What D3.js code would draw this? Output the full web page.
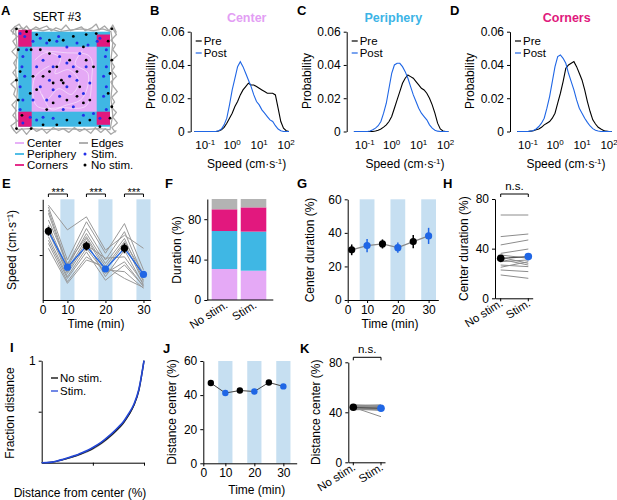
<!DOCTYPE html>
<html>
<head>
<meta charset="utf-8">
<script src="https://cdn.jsdelivr.net/npm/d3@7"></script>
<style>
  body { margin: 0; background: #fff; }
  svg text { font-family: "Liberation Sans", Arial, Helvetica, sans-serif; fill: #000; }
</style>
</head>
<body>
<svg id="fig" width="617" height="500"></svg>
<script>
// ---------------- data ----------------
// A: arena (arena units 0-100)
const centerZone = [14.6, 85.5, 15.8, 84.2];
const cornerZones = [[0, 14.6, -2, 15.8], [85.5, 100, 3, 15.8], [0, 14.6, 84.2, 100], [85.5, 100, 84.2, 98]];
const edgeTracks = [
  [[-6,3],[-4,-5],[1,-8],[5,-2],[9,-6],[13,-1],[19,-5],[23,-3],[31,-6],[36,-1],[41,-4],[47,-2],[52,-7],[57,-1],[63,-3],[69,-5],[73,-1],[80,-4],[85,-8],[88,-2],[94,-6],[99,-1],[103,-7],[107,1]],
  [[102,-5],[107,3],[101,9],[106,14],[103,19],[108,25],[101,31],[105,37],[102,41],[107,47],[101,53],[104,58],[108,63],[102,69],[105,74],[101,79],[107,85],[103,90],[108,96],[102,101],[106,106]],
  [[107,104],[101,108],[95,102],[90,106],[84,101],[79,107],[72,102],[67,105],[61,101],[55,106],[49,102],[44,104],[38,101],[31,107],[26,102],[20,105],[15,101],[9,108],[4,102],[-2,107],[-7,101]],
  [[-4,105],[-8,99],[-1,94],[-6,88],[-2,83],[-7,77],[-1,71],[-5,66],[-3,60],[-8,55],[-1,49],[-6,43],[-2,38],[-5,33],[-1,27],[-7,21],[-2,16],[-6,10],[-1,5],[-8,-1],[-3,-6]],
  [[-3,-2],[4,-4],[10,-1],[17,-3],[27,-1],[35,-3],[45,0],[58,-2],[70,-3],[82,-1],[92,-3],[101,0],[103,12],[101,30],[103,50],[101,70],[103,88],[100,103],[88,102],[70,103],[50,102],[30,103],[12,102],[-2,103],[-3,84],[-1,62],[-3,40],[-1,20],[-3,-2]]
];
const centerTracks = [
  [[18,30],[30,22],[46,28],[40,44],[55,40],[66,52],[58,66],[44,60],[30,72],[22,58]],
  [[70,20],[62,34],[76,44],[70,70],[50,78],[36,82],[26,66]],
  [[24,20],[50,22],[78,26],[80,50],[74,78],[48,80],[20,78],[18,48],[34,36]]
];
const stimDots = [[2,2],[7,5],[16,10],[24,7],[31,12],[42,10],[44,5],[53,16],[64,12],[76,14],[86,10],[89,7],[96,19],[95,26],[96,37],[93,47],[96,58],[93,68],[96,82],[89,91],[82,86],[71,88],[60,79],[49,82],[38,91],[27,90],[20,93],[13,90],[5,96],[2,82],[5,72],[2,58],[7,47],[4,37],[5,26],[9,19],[45,26],[53,33],[60,37],[38,37],[34,51],[53,58],[64,51],[71,65],[45,68],[31,72],[24,58],[20,37],[74,37],[67,23],[78,54],[16,72],[27,30],[56,47],[38,61]];
const noStimDots = [[-2,-3],[9,0],[20,3],[34,9],[49,9],[60,5],[74,3],[85,2],[102,-3],[98,10],[102,30],[100,44],[98,65],[102,79],[100,91],[89,100],[78,93],[67,96],[53,93],[42,98],[27,98],[14,102],[-2,102],[4,88],[0,72],[-2,51],[2,42],[0,19],[14,19],[24,19],[34,23],[42,37],[34,42],[47,51],[38,54],[49,54],[38,75],[31,82],[53,72],[64,68],[71,75],[78,72],[82,37],[71,16],[74,30],[64,42],[16,47],[20,61],[13,65],[56,30],[27,47],[67,58]];

// B-D: speed histograms (log10 speed bins)
const speedBins = [-1.4,-1.3,-1.2,-1.1,-1.0,-0.9,-0.8,-0.7,-0.6,-0.5,-0.4,-0.3,-0.2,-0.1,0.0,0.1,0.2,0.3,0.4,0.5,0.6,0.7,0.8,0.9,1.0,1.1,1.2,1.3,1.4,1.5,1.6,1.7,1.8,1.9,2.0,2.1];
const centerPre = [0,0,0,0,0,0,0,0,0,0.0003,0.001,0.0025,0.005,0.008,0.011,0.015,0.018,0.022,0.025,0.027,0.029,0.028,0.028,0.027,0.026,0.025,0.024,0.023,0.023,0.023,0.022,0.014,0.006,0.002,0.0005,0];
const centerPost = [0,0,0,0,0,0,0,0,0,0.0005,0.0015,0.004,0.008,0.016,0.025,0.032,0.039,0.042,0.039,0.035,0.031,0.027,0.022,0.018,0.016,0.013,0.011,0.009,0.007,0.006,0.0035,0.0015,0.0005,0,0,0];
const periPre = [0,0,0,0,0,0,0,0,0.0003,0.0008,0.0015,0.0026,0.004,0.006,0.009,0.014,0.019,0.024,0.029,0.032,0.034,0.033,0.032,0.030,0.028,0.026,0.025,0.023,0.020,0.016,0.011,0.005,0.0015,0.0003,0,0];
const periPost = [0,0,0,0,0,0,0.0003,0.001,0.002,0.0035,0.006,0.011,0.017,0.026,0.035,0.040,0.041,0.041,0.039,0.036,0.032,0.027,0.022,0.018,0.014,0.011,0.009,0.007,0.004,0.002,0.0008,0.0002,0,0,0,0];
const cornPre = [0,0,0,0,0,0.0002,0.0005,0.001,0.0015,0.0025,0.004,0.005,0.006,0.008,0.011,0.017,0.023,0.030,0.038,0.040,0.041,0.042,0.039,0.035,0.031,0.025,0.018,0.012,0.007,0.0045,0.0025,0.0015,0.0006,0.0002,0,0];
const cornPost = [0,0,0,0,0,0.0002,0.0006,0.0015,0.003,0.005,0.008,0.014,0.021,0.030,0.039,0.045,0.046,0.044,0.041,0.035,0.030,0.025,0.019,0.014,0.011,0.008,0.0055,0.0033,0.0017,0.0008,0.0003,0,0,0,0,0];
const probTicks = [0, 0.02, 0.04, 0.06];
const speedTicks = [-1, 0, 1, 2];

// E, G, J: time course
const epochTimes = [5, 10, 15, 20, 25, 30];
const stimCenters = [10, 20, 30];
const timeTickLabels = ["0", "10", "20", "30"];
const speedMice = [
  [21.1, 15.6, 18.5, 11.1, 14.4, 11.5],
  [20.7, 8.9, 17.4, 10.4, 17.0, 6.7],
  [20.0, 7.8, 15.9, 8.9, 15.2, 5.2],
  [19.3, 7.4, 14.8, 8.1, 13.7, 4.4],
  [17.8, 8.1, 14.1, 7.4, 13.0, 5.9],
  [16.7, 6.7, 13.7, 6.7, 12.6, 4.1],
  [15.9, 6.3, 13.0, 5.2, 11.1, 3.3],
  [15.2, 5.9, 12.2, 9.3, 9.6, 3.7],
  [14.1, 5.2, 11.5, 5.9, 8.5, 3.0],
  [13.3, 4.8, 10.7, 4.4, 7.8, 3.1],
  [12.6, 4.1, 9.6, 6.7, 6.3, 2.6],
  [11.5, 3.7, 8.9, 7.4, 4.8, 2.8]
];
const speedMean = [15.3, 7.3, 12.0, 6.9, 11.5, 5.7];
const speedSem = [1.0, 0.5, 1.0, 0.5, 1.1, 0.5];
const centerDurMean = [29.9, 32.4, 33.4, 31.2, 34.8, 38.2];
const centerDurSem = [3.2, 4.0, 2.7, 3.0, 4.0, 4.8];
const distCenterMean = [47.1, 41.2, 42.7, 42.1, 47.4, 45.1];

// F: duration per zone
const conditions = ["No stim.", "Stim."];
const zoneOrder = ["Center", "Periphery", "Corners", "Edges"];
const durNoStim = [30.7, 37.6, 21.5, 10.2];
const durStim = [29.0, 38.7, 24.0, 8.3];

// H: center duration per mouse
const hNoStim = [67.1, 49.7, 43.0, 36.2, 34.9, 33.0, 31.4, 29.5, 26.8, 25.0, 22.8, 18.8];
const hStim = [67.1, 51.8, 47.0, 39.7, 32.2, 28.2, 26.8, 30.9, 25.5, 29.5, 21.5, 16.1];
const hMean = [32.2, 33.6];

// I: cumulative distance
const distBins = [0,5,10,15,20,25,30,35,40,45,50,55,60,65,70,75,80,85,90,95,100];
const cumStim = [0,0.001,0.006,0.017,0.030,0.046,0.062,0.079,0.099,0.122,0.149,0.180,0.215,0.256,0.300,0.350,0.405,0.480,0.570,0.720,1.0];
const cumNoStim = [0,0.001,0.005,0.015,0.027,0.042,0.057,0.074,0.093,0.115,0.141,0.171,0.205,0.245,0.289,0.338,0.393,0.468,0.560,0.710,1.0];
const cumSem = [0,0,0.002,0.004,0.006,0.008,0.009,0.010,0.011,0.012,0.013,0.014,0.015,0.016,0.016,0.016,0.016,0.015,0.013,0.010,0];

// K: distance from center per mouse
const kNoStim = [45.5, 45.0, 44.5, 44.0, 43.5, 43.0, 42.5, 44.0, 46.0, 42.0, 45.0, 43.0];
const kStim = [44.5, 43.5, 45.0, 42.5, 44.0, 42.0, 41.5, 36.5, 45.5, 42.5, 46.0, 43.5];
const kMean = [44.0, 43.2];

// ---------------- styles ----------------
const C = {
  center: "#e5a9f6", periphery: "#3fb7e4", corners: "#e2187e", edges: "#a8a8a8",
  dotStim: "#2330e8", blue: "#1f66e5", band: "#c6dff1", grey: "#999"
};
const zoneColor = { Center: C.center, Periphery: C.periphery, Corners: C.corners, Edges: "#b3b3b3" };

const svg = d3.select("#fig");
svg.append("rect").attr("width", 617).attr("height", 500).attr("fill", "#fff");

function letter(t, x, y) {
  svg.append("text").attr("x", x).attr("y", y).attr("font-size", 13).attr("font-weight", "bold").text(t);
}
function styleAxis(g) {
  g.attr("font-size", 12).attr("font-family", "Liberation Sans, Arial, sans-serif");
  g.select(".domain").attr("stroke", "#000");
  g.selectAll(".tick line").attr("stroke", "#000");
  return g;
}
function yLabel(t, x, y) {
  return svg.append("text").attr("transform", `translate(${x},${y}) rotate(-90)`)
    .attr("text-anchor", "middle").attr("dy", "0.35em").attr("font-size", 12).text(t);
}
function label(t, x, y, size) {
  return svg.append("text").attr("x", x).attr("y", y).attr("text-anchor", "middle")
    .attr("font-size", size || 12).text(t);
}

// ---------------- A ----------------
letter("A", 1, 15);
label("SERT #3", 57, 21);
const ax = d3.scaleLinear().domain([0, 100]).range([18.3, 110]);
const ay = d3.scaleLinear().domain([0, 100]).range([31.7, 126.7]);
const gA = svg.append("g");
const trackLine = d3.line().x(d => ax(d[0])).y(d => ay(d[1]));
edgeTracks.forEach(t => gA.append("path").attr("d", trackLine(t)).attr("fill", "none")
  .attr("stroke", C.edges).attr("stroke-width", 1.3).attr("stroke-linejoin", "round"));
gA.append("rect").attr("x", ax(0)).attr("y", ay(0)).attr("width", ax(100) - ax(0))
  .attr("height", ay(100) - ay(0)).attr("fill", C.periphery);
gA.append("rect").attr("x", ax(centerZone[0])).attr("y", ay(centerZone[2]))
  .attr("width", ax(centerZone[1]) - ax(centerZone[0])).attr("height", ay(centerZone[3]) - ay(centerZone[2]))
  .attr("fill", C.center);
cornerZones.forEach(z => gA.append("rect").attr("x", ax(z[0])).attr("y", ay(z[2]))
  .attr("width", ax(z[1]) - ax(z[0])).attr("height", ay(z[3]) - ay(z[2])).attr("fill", C.corners));
centerTracks.forEach(t => gA.append("path").attr("d", d3.line().x(d => ax(d[0])).y(d => ay(d[1])).curve(d3.curveCatmullRom)(t))
  .attr("fill", "none").attr("stroke", "#fff").attr("stroke-opacity", 0.6).attr("stroke-width", 0.8));
gA.selectAll("circle.s").data(stimDots).join("circle").attr("class", "s")
  .attr("cx", d => ax(d[0])).attr("cy", d => ay(d[1])).attr("r", 1.5).attr("fill", C.dotStim);
gA.selectAll("circle.n").data(noStimDots).join("circle").attr("class", "n")
  .attr("cx", d => ax(d[0])).attr("cy", d => ay(d[1])).attr("r", 1.4).attr("fill", "#000");
// legend A
const legA = [
  { t: "Center", c: C.center, x: 15, y: 143, k: "line" },
  { t: "Periphery", c: C.periphery, x: 15, y: 154, k: "line" },
  { t: "Corners", c: C.corners, x: 15, y: 165, k: "line" },
  { t: "Edges", c: C.edges, x: 79, y: 143, k: "line" },
  { t: "Stim.", c: C.dotStim, x: 79, y: 154, k: "dot" },
  { t: "No stim.", c: "#000", x: 79, y: 165, k: "dot" }
];
legA.forEach(l => {
  if (l.k === "line") svg.append("line").attr("x1", l.x).attr("x2", l.x + 9).attr("y1", l.y).attr("y2", l.y)
    .attr("stroke", l.c).attr("stroke-width", 1.8);
  else svg.append("circle").attr("cx", l.x + 6).attr("cy", l.y).attr("r", 1.5).attr("fill", l.c);
  svg.append("text").attr("x", l.x + 12).attr("y", l.y + 4).attr("font-size", 11.5).text(l.t);
});

// ---------------- B-D ----------------
function supText(sel, base, sup, tail) {
  sel.append("tspan").text(base);
  sel.append("tspan").attr("dy", -4.5).attr("font-size", 8).text(sup);
  if (tail) sel.append("tspan").attr("dy", 4.5).text(tail);
}
function histPanel(o) {
  const y = d3.scaleLinear().domain([0, 0.06]).range([131.5, 31.7]);
  const x = d3.scaleLinear().domain([-1, 2]).range([o.ax + o.off, o.ax + o.off + 81]);
  styleAxis(svg.append("g").attr("transform", `translate(${o.ax},0)`)
    .call(d3.axisLeft(y).tickValues(probTicks).tickSize(3).tickSizeOuter(0).tickPadding(3)
      .tickFormat(d => d === 0 ? "0" : d3.format(".2f")(d))));
  speedTicks.forEach(v => {
    const t = svg.append("text").attr("x", x(v)).attr("y", 149).attr("text-anchor", "middle").attr("font-size", 11.5);
    supText(t, "10", v < 0 ? "-1" : String(v));
  });
  const xl = svg.append("text").attr("x", o.xl).attr("y", 168).attr("text-anchor", "middle").attr("font-size", 12);
  supText(xl, "Speed (cm·s", "-1", ")");
  svg.append("text").attr("x", o.tx).attr("y", 22).attr("text-anchor", "middle").attr("font-size", 12.5)
    .attr("font-weight", "bold").style("fill", o.color).text(o.title);
  yLabel("Probability", o.ax - 40, 81);
  const line = d3.line().x((d, i) => x(speedBins[i])).y(d => y(d));
  svg.append("path").attr("d", line(o.pre)).attr("fill", "none").attr("stroke", "#000").attr("stroke-width", 1.1);
  svg.append("path").attr("d", line(o.post)).attr("fill", "none").attr("stroke", C.blue).attr("stroke-width", 1.1);
  [["Pre", "#000", 41], ["Post", C.blue, 53]].forEach(([t, c, yy]) => {
    svg.append("line").attr("x1", o.ax + 5).attr("x2", o.ax + 11).attr("y1", yy).attr("y2", yy).attr("stroke", c).attr("stroke-width", 1.2);
    svg.append("text").attr("x", o.ax + 13).attr("y", yy + 4).attr("font-size", 11.5).text(t);
  });
}
letter("B", 150, 15); letter("C", 297, 15); letter("D", 450, 15);
histPanel({ ax: 190.7, off: 14.5, title: "Center", color: "#e39ef4", tx: 246.7, xl: 246.7, pre: centerPre, post: centerPost });
histPanel({ ax: 346.7, off: 18, title: "Periphery", color: "#3cb4e6", tx: 393.3, xl: 405, pre: periPre, post: periPost });
histPanel({ ax: 510, off: 18, title: "Corners", color: "#e0197d", tx: 566.7, xl: 566, pre: cornPre, post: cornPost });

// ---------------- time panels ----------------
function timeAxes(o) {
  const x = d3.scaleLinear().domain(o.xd).range(o.xr);
  const y = d3.scaleLinear().domain(o.yd).range(o.yr);
  stimCenters.forEach(c => svg.append("rect").attr("x", x(c - o.hw)).attr("y", o.yr[1])
    .attr("width", x(c + o.hw) - x(c - o.hw)).attr("height", o.yr[0] - o.yr[1]).attr("fill", C.band));
  styleAxis(svg.append("g").attr("transform", `translate(0,${o.yr[0]})`)
    .call(d3.axisBottom(x).tickValues([o.xd[0], 10, 20, 30]).tickSize(3).tickSizeOuter(0).tickPadding(2)
      .tickFormat((d, i) => timeTickLabels[i])));
  styleAxis(svg.append("g").attr("transform", `translate(${o.xr[0]},0)`)
    .call(d3.axisLeft(y).tickValues(o.yt).tickSize(3).tickSizeOuter(0).tickPadding(3)
      .tickFormat(o.yf || (d => d))));
  label("Time (min)", o.tl[0], o.tl[1]);
  return { x, y };
}

// E
letter("E", 2, 188);
const e = timeAxes({ xd: [3.5, 31.9], xr: [42.7, 150.7], yd: [0, 22.4], yr: [300, 199.3], yt: [10, 20], yf: () => "", hw: 1.85, tl: [96, 328] });
const eLine = d3.line().x((d, i) => e.x(epochTimes[i])).y(d => e.y(d));
speedMice.forEach(m => svg.append("path").attr("d", eLine(m)).attr("fill", "none").attr("stroke", C.grey).attr("stroke-width", 1));
svg.append("path").attr("d", eLine(speedMean)).attr("fill", "none").attr("stroke", C.blue).attr("stroke-width", 1.3);
speedMean.forEach((v, i) => {
  const col = i % 2 ? C.blue : "#000";
  svg.append("line").attr("x1", e.x(epochTimes[i])).attr("x2", e.x(epochTimes[i]))
    .attr("y1", e.y(v - speedSem[i])).attr("y2", e.y(v + speedSem[i])).attr("stroke", col).attr("stroke-width", 1.5);
  svg.append("circle").attr("cx", e.x(epochTimes[i])).attr("cy", e.y(v)).attr("r", 3.6).attr("fill", col);
});
[[5, 10], [15, 20], [25, 30]].forEach(([a, b]) => {
  svg.append("path").attr("d", `M${e.x(a)},197 V194 H${e.x(b)} V197`).attr("fill", "none").attr("stroke", "#000");
  svg.append("text").attr("x", (e.x(a) + e.x(b)) / 2).attr("y", 196).attr("text-anchor", "middle").attr("font-size", 11).text("***");
});
yLabel("Speed (cm·s⁻¹)", 11.5, 250);

// F
letter("F", 165, 188);
const fx = d3.scaleBand().domain(conditions).range([211.7, 266.3]).paddingInner(0.12);
const fy = d3.scaleLinear().domain([0, 100]).range([300, 199]);
[durNoStim, durStim].forEach((vals, ci) => {
  let acc = 0;
  vals.forEach((v, zi) => {
    svg.append("rect").attr("x", fx(conditions[ci])).attr("width", fx.bandwidth())
      .attr("y", fy(acc + v)).attr("height", fy(acc) - fy(acc + v)).attr("fill", zoneColor[zoneOrder[zi]]);
    acc += v;
  });
});
styleAxis(svg.append("g").attr("transform", "translate(207.3,0)")
  .call(d3.axisLeft(fy).tickValues([0, 40, 80]).tickSize(3).tickSizeOuter(0).tickPadding(3)));
svg.append("line").attr("x1", 207.3).attr("x2", 273.3).attr("y1", 300).attr("y2", 300).attr("stroke", "#000");
conditions.forEach(c => svg.append("text").attr("transform", `translate(${fx(c) + fx.bandwidth() / 2 + 4},307) rotate(-32)`)
  .attr("text-anchor", "end").attr("font-size", 11.5).text(c));
yLabel("Duration (%)", 177, 250);

// G
letter("G", 297, 188);
const gG = timeAxes({ xd: [3.7, 33.15], xr: [347.7, 438.3], yd: [0, 60], yr: [300, 199.3], yt: [0, 20, 40, 60], hw: 2.4, tl: [390, 328] });
svg.append("path").attr("d", d3.line().x((d, i) => gG.x(epochTimes[i])).y(d => gG.y(d))(centerDurMean))
  .attr("fill", "none").attr("stroke", "#888").attr("stroke-width", 1.2);
centerDurMean.forEach((v, i) => {
  const col = i % 2 ? C.blue : "#000";
  svg.append("line").attr("x1", gG.x(epochTimes[i])).attr("x2", gG.x(epochTimes[i]))
    .attr("y1", gG.y(v - centerDurSem[i])).attr("y2", gG.y(v + centerDurSem[i])).attr("stroke", col).attr("stroke-width", 1.5);
  svg.append("circle").attr("cx", gG.x(epochTimes[i])).attr("cy", gG.y(v)).attr("r", 3.6).attr("fill", col);
});
yLabel("Center duration (%)", 310, 250);

// H and K: paired plots
function pairPanel(o) {
  const x = d3.scalePoint().domain(conditions).range(o.xr);
  const y = d3.scaleLinear().domain([0, 80]).range(o.yr);
  styleAxis(svg.append("g").attr("transform", `translate(${o.ax},0)`)
    .call(d3.axisLeft(y).tickValues([0, 40, 80]).tickSize(3).tickSizeOuter(0).tickPadding(3)));
  styleAxis(svg.append("g").attr("transform", `translate(0,${o.yr[0]})`)
    .call(d3.axisBottom(d3.scaleLinear().domain([0, 1]).range([o.ax, o.axEnd])).tickValues([]).tickSizeOuter(0)));
  conditions.forEach(c => svg.append("line").attr("x1", x(c)).attr("x2", x(c)).attr("y1", o.yr[0]).attr("y2", o.yr[0] + 3).attr("stroke", "#000"));
  o.a.forEach((v, i) => svg.append("line").attr("x1", x(conditions[0])).attr("x2", x(conditions[1]))
    .attr("y1", y(v)).attr("y2", y(o.b[i])).attr("stroke", "#8c8c8c").attr("stroke-width", 1));
  svg.append("line").attr("x1", x(conditions[0])).attr("x2", x(conditions[1]))
    .attr("y1", y(o.m[0])).attr("y2", y(o.m[1])).attr("stroke", "#555").attr("stroke-width", 1.2);
  svg.append("circle").attr("cx", x(conditions[0])).attr("cy", y(o.m[0])).attr("r", 3.8).attr("fill", "#000");
  svg.append("circle").attr("cx", x(conditions[1])).attr("cy", y(o.m[1])).attr("r", 3.8).attr("fill", C.blue);
  const by = o.yr[1] - 5;
  svg.append("path").attr("d", `M${x(conditions[0])},${by + 3} V${by} H${x(conditions[1])} V${by + 3}`)
    .attr("fill", "none").attr("stroke", "#000");
  label("n.s.", (x(conditions[0]) + x(conditions[1])) / 2, by - 4, 11.5);
  conditions.forEach(c => svg.append("text").attr("transform", `translate(${x(c) + 3},${o.yr[0] + 7}) rotate(-32)`)
    .attr("text-anchor", "end").attr("font-size", 11.5).text(c));
  yLabel(o.yl, o.ylx, (o.yr[0] + o.yr[1]) / 2);
}
letter("H", 443, 188);
pairPanel({ ax: 495, axEnd: 532.7, xr: [500.7, 528.3], yr: [298.3, 199], a: hNoStim, b: hStim, m: hMean, yl: "Center duration (%)", ylx: 464 });

// I
letter("I", 10, 352);
const ix = d3.scaleLinear().domain([0, 100]).range([41.7, 144]);
const iy = d3.scaleLinear().domain([0, 1]).range([462.7, 360.7]);
styleAxis(svg.append("g").attr("transform", "translate(41.7,0)")
  .call(d3.axisLeft(iy).tickValues([0.5, 1]).tickSize(3).tickSizeOuter(0).tickPadding(3).tickFormat(d => d === 1 ? "1" : "")));
styleAxis(svg.append("g").attr("transform", "translate(0,462.7)")
  .call(d3.axisBottom(ix).tickValues([50, 100]).tickSize(3).tickSizeOuter(0).tickFormat(() => "")));
svg.append("path").attr("d", d3.area().x((d, i) => ix(distBins[i])).y0((d, i) => iy(cumNoStim[i] - d)).y1((d, i) => iy(cumStim[i] + d * 0.3)).curve(d3.curveMonotoneX)(cumSem))
  .attr("fill", "#8a8a8a");
const iLine = d3.line().x((d, i) => ix(distBins[i])).y(d => iy(d)).curve(d3.curveMonotoneX);
svg.append("path").attr("d", iLine(cumNoStim)).attr("fill", "none").attr("stroke", "#111").attr("stroke-width", 1.4);
svg.append("path").attr("d", iLine(cumStim)).attr("fill", "none").attr("stroke", "#2448d8").attr("stroke-width", 1.6);
[["No stim.", "#000", 378], ["Stim.", "#2448d8", 391]].forEach(([t, c, yy]) => {
  svg.append("line").attr("x1", 51).attr("x2", 58).attr("y1", yy).attr("y2", yy).attr("stroke", c).attr("stroke-width", 1.3);
  svg.append("text").attr("x", 60).attr("y", yy + 4).attr("font-size", 11.5).text(t);
});
yLabel("Fraction distance", 10, 413);
label("Distance from center (%)", 80, 497);

// J
letter("J", 163, 353);
const j = timeAxes({ xd: [2.4, 34.6], xr: [203.3, 296.7], yd: [0, 60], yr: [463.3, 361], yt: [0, 20, 40, 60], hw: 2.45, tl: [256.7, 494] });
svg.append("path").attr("d", d3.line().x((d, i) => j.x(epochTimes[i])).y(d => j.y(d))(distCenterMean))
  .attr("fill", "none").attr("stroke", "#444").attr("stroke-width", 1);
distCenterMean.forEach((v, i) => svg.append("circle").attr("cx", j.x(epochTimes[i])).attr("cy", j.y(v))
  .attr("r", 3.2).attr("fill", i % 2 ? C.blue : "#000"));
yLabel("Distance center (%)", 172, 412);

// K
letter("K", 300, 353);
pairPanel({ ax: 348.3, axEnd: 385, xr: [353.3, 381], yr: [462.3, 362.3], a: kNoStim, b: kStim, m: kMean, yl: "Distance center (%)", ylx: 316 });
</script>
</body>
</html>
